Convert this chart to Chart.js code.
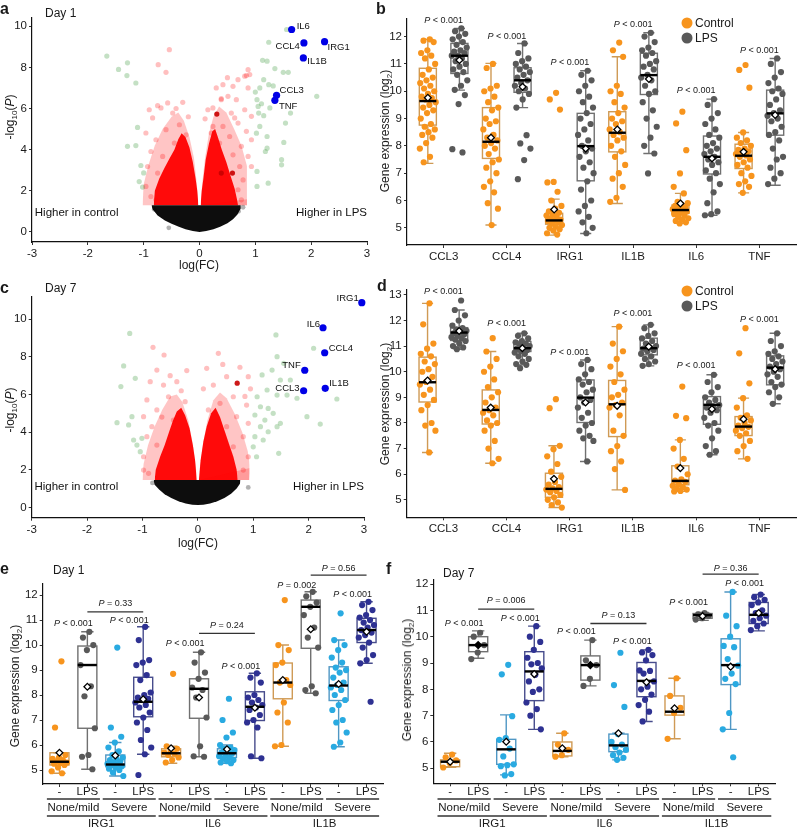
<!DOCTYPE html>
<html lang="en">
<head>
<meta charset="UTF-8">
<title>LPS response</title>
<script src="https://cdn.jsdelivr.net/npm/chart.js"></script>
<style>
  body { margin: 0; background: #fff; }
  #page { position: relative; width: 800px; height: 827px; overflow: hidden; font-family: 'Liberation Sans', Arial, sans-serif; color: #1a1a1a; }
  canvas { position: absolute; }
  .t { position: absolute; line-height: 1; white-space: nowrap; }
  .big { font-weight: bold; font-size: 16px; }
  .day { font-size: 12px; }
  .yt { font-size: 12px; transform: translate(-50%, -50%) rotate(-90deg); }
  .xt { font-size: 12px; transform: translate(-50%, -50%); }
  .lg { font-size: 12px; transform: translateY(-50%); }
  .dot { position: absolute; width: 11px; height: 11px; border-radius: 50%; transform: translate(-50%, -50%); }
  sub { font-size: 8px; vertical-align: -3px; line-height: 0; }
</style>
</head>
<body>
<div id="page">
  <canvas id="cA"></canvas>
  <canvas id="cB"></canvas>
  <canvas id="cC"></canvas>
  <canvas id="cD"></canvas>
  <canvas id="cE"></canvas>
  <canvas id="cF"></canvas>

  <div class="t big" style="left:0;top:1px">a</div>
  <div class="t day" style="left:45px;top:7px">Day 1</div>
  <div class="t big" style="left:376px;top:1px">b</div>
  <div class="t big" style="left:0;top:280px">c</div>
  <div class="t day" style="left:45px;top:282px">Day 7</div>
  <div class="t big" style="left:377px;top:278px">d</div>
  <div class="t big" style="left:0;top:561px">e</div>
  <div class="t day" style="left:53px;top:564px">Day 1</div>
  <div class="t big" style="left:386px;top:561px">f</div>
  <div class="t day" style="left:443px;top:567px">Day 7</div>

  <div class="t yt" style="left:10px;top:117px">-log<sub>10</sub>(<i>P</i>)</div>
  <div class="t yt" style="left:10px;top:410px">-log<sub>10</sub>(<i>P</i>)</div>
  <div class="t xt" style="left:199px;top:265px">log(FC)</div>
  <div class="t xt" style="left:198px;top:543px">log(FC)</div>
  <div class="t yt" style="left:385px;top:131px">Gene expression (log<sub>2</sub>)</div>
  <div class="t yt" style="left:385px;top:404px">Gene expression (log<sub>2</sub>)</div>
  <div class="t yt" style="left:15px;top:686px">Gene expression (log<sub>2</sub>)</div>
  <div class="t yt" style="left:407px;top:680px">Gene expression (log<sub>2</sub>)</div>

  <div class="dot" style="left:687px;top:23px;background:#f7941d"></div>
  <div class="t lg" style="left:695px;top:23px">Control</div>
  <div class="dot" style="left:687px;top:38px;background:#595959"></div>
  <div class="t lg" style="left:695px;top:38px">LPS</div>
  <div class="dot" style="left:687px;top:291px;background:#f7941d"></div>
  <div class="t lg" style="left:695px;top:291px">Control</div>
  <div class="dot" style="left:687px;top:306px;background:#595959"></div>
  <div class="t lg" style="left:695px;top:306px">LPS</div>
</div>

<script>
// ---------- volcano, day 1 ----------
const aBlack = [[-0.86,1.3],[-0.84,1.1],[-0.75,0.8],[-0.62,0.55],[-0.5,0.4],[-0.37,0.25],[-0.25,0.13],[-0.12,0.04],[0,0],[0.12,0.04],[0.25,0.13],[0.37,0.25],[0.5,0.42],[0.6,0.62],[0.68,0.85],[0.73,1.1],[0.74,1.3]];
const aRedL = [[-0.82,1.3],[-0.8,2.0],[-0.72,2.6],[-0.63,3.1],[-0.53,3.6],[-0.45,4.0],[-0.38,4.5],[-0.32,4.8],[-0.25,4.6],[-0.18,4.1],[-0.12,3.4],[-0.07,2.6],[-0.04,2.0],[-0.02,1.3]];
const aRedR = [[0.02,1.3],[0.04,2.0],[0.07,2.6],[0.11,3.5],[0.17,4.3],[0.23,4.9],[0.28,5.0],[0.33,4.6],[0.4,4.0],[0.48,3.4],[0.56,2.7],[0.63,2.1],[0.67,1.6],[0.69,1.3]];
const aHaloL = [[-1.02,1.3],[-1.0,2.3],[-0.92,3.2],[-0.8,4.2],[-0.66,5.0],[-0.5,5.6],[-0.38,5.8],[-0.28,5.4],[-0.18,4.6],[-0.1,3.6],[-0.05,2.4],[-0.02,1.3]];
const aHaloR = [[0.02,1.3],[0.05,2.4],[0.1,3.6],[0.17,4.8],[0.25,5.6],[0.35,6.1],[0.48,5.8],[0.62,5.0],[0.75,4.2],[0.85,3.2],[0.9,2.3],[0.88,1.6],[0.85,1.3]];
const aPink = [[-0.54,8.86],[-0.74,8.13],[-0.6,7.76],[-0.75,6.14],[-0.57,6.27],[-0.69,6.03],[-0.9,5.94],[-0.48,5.78],[-0.84,5.54],[-0.36,5.21],[-0.6,4.97],[-0.96,4.81],[-0.24,4.72],[-0.78,4.48],[-0.45,4.32],[-0.87,3.91],[-0.66,3.67],[-0.93,3.18],[-0.75,2.86],[-0.96,2.21],[-0.87,1.72],[-0.78,1.56],[-0.3,6.3],[-0.2,5.6],[-0.42,6.0],
  [0.87,7.89],[0.9,7.65],[0.81,7.57],[0.42,7.16],[0.69,7.4],[0.87,7.0],[0.51,6.59],[0.66,6.43],[0.39,6.43],[0.24,6.03],[0.81,5.94],[0.57,5.78],[0.93,5.62],[0.69,5.29],[0.42,5.13],[0.84,4.89],[0.21,4.81],[0.54,4.64],[0.93,4.48],[0.75,4.16],[0.36,4.32],[0.6,3.75],[0.87,3.67],[0.93,3.18],[0.72,3.18],[0.78,2.53],[0.69,2.05],[0.75,1.56],[0.39,6.48],[0.63,5.54],[0.84,7.6],[0.6,7.08],[0.15,5.94],[0.24,5.13],[0.1,5.5],[0.3,7.0],[0.5,7.5]];
const aGreen = [[-1.66,8.55],[-1.29,8.22],[-1.45,7.9],[-1.3,7.6],[-1.14,7.24],[-1.11,5.08],[-1.14,4.2],[-1.29,4.16],[-1.05,3.23],[-1.0,2.87],[-1.08,2.45],[-1.02,2.18],
  [1.24,9.22],[1.21,8.3],[1.13,8.34],[1.35,7.94],[1.5,7.76],[1.59,7.76],[1.15,7.4],[1.24,7.16],[1.32,7.1],[1.08,7.0],[1.03,6.43],[1.11,6.23],[1.26,6.03],[1.06,5.78],[1.15,5.65],[2.1,6.59],[1.63,5.78],[1.54,5.29],[1.08,5.13],[1.21,4.64],[1.02,4.8],[1.51,4.35],[1.18,3.91],[1.21,4.07],[1.47,3.51],[1.47,3.26],[1.03,2.94],[1.23,2.37],[1.03,2.21],[1.56,9.84],[1.0,6.8],[1.05,6.1]];
const aDark = [[0.39,2.86],[0.59,2.86],[0.31,5.73]];
const aGrey = [[-0.81,1.1],[-0.55,0.2],[0.7,1.0],[0.78,1.2]];
const aGenes = ['IL6', 'CCL4', 'IRG1', 'IL1B', 'CCL3', 'TNF'];
const aGeneX = [1.65, 1.87, 2.24, 1.86, 1.38, 1.35];
const aGeneY = [9.84, 9.19, 9.25, 8.46, 6.64, 6.4];

// ---------- volcano, day 7 ----------
const cBlack = [[-0.8,1.45],[-0.78,1.2],[-0.7,0.95],[-0.6,0.7],[-0.48,0.5],[-0.35,0.33],[-0.22,0.2],[-0.1,0.14],[0,0.12],[0.1,0.14],[0.22,0.2],[0.35,0.33],[0.48,0.5],[0.6,0.72],[0.7,1.0],[0.76,1.25],[0.77,1.45]];
const cRedL = [[-0.78,1.45],[-0.76,2.0],[-0.68,2.7],[-0.6,3.3],[-0.52,4.0],[-0.45,4.6],[-0.38,5.1],[-0.3,5.3],[-0.23,4.9],[-0.15,4.2],[-0.09,3.3],[-0.05,2.5],[-0.02,1.45]];
const cRedR = [[0.02,1.45],[0.05,2.5],[0.1,3.5],[0.16,4.3],[0.24,5.0],[0.32,5.3],[0.4,4.8],[0.48,4.1],[0.56,3.4],[0.64,2.7],[0.7,2.0],[0.72,1.45]];
const cHaloL = [[-1.0,1.45],[-0.98,2.3],[-0.9,3.3],[-0.78,4.3],[-0.64,5.2],[-0.5,5.9],[-0.38,6.0],[-0.28,5.6],[-0.17,4.6],[-0.08,3.2],[-0.03,2.0],[-0.02,1.45]];
const cHaloR = [[0.02,1.45],[0.04,2.2],[0.09,3.3],[0.17,4.6],[0.28,5.7],[0.4,6.1],[0.52,5.8],[0.66,5.0],[0.8,4.0],[0.9,3.0],[0.95,2.1],[0.93,1.45]];
const cPink = [[-0.81,8.51],[-0.61,8.1],[0.37,8.19],[0.76,7.45],[-0.74,7.3],[-0.2,7.27],[-0.86,6.68],[-0.38,6.68],[-0.62,6.5],[-0.53,5.88],[-0.92,5.71],[-0.23,5.62],[-0.74,5.18],[-0.98,4.82],[-0.44,4.64],[-0.83,4.29],[-0.92,3.76],[-0.74,3.31],[-0.98,2.69],[-0.98,1.98],[-0.89,1.81],
  [0.16,7.39],[0.52,6.95],[0.28,6.5],[0.91,6.95],[0.64,5.88],[0.4,5.53],[0.88,5.44],[0.19,5.18],[0.7,4.82],[0.91,4.47],[0.52,4.29],[0.82,3.76],[0.64,3.22],[0.91,2.69],[0.82,1.98],[-0.5,7.0],[-0.3,6.2],[0.1,6.3],[0.45,7.6],[0.95,6.3],[0.85,5.9],[-0.65,4.8]];
const cGreen = [[-1.23,9.25],[-1.34,7.52],[-1.13,6.86],[-1.39,6.42],[-1.46,4.5],[-1.19,4.82],[-1.16,3.58],[-1.1,3.31],[-1.01,3.67],[-1.04,2.96],[-1.25,4.38],
  [1.41,9.17],[2.09,8.46],[1.43,8.01],[1.55,7.66],[1.34,7.3],[1.16,7.04],[1.49,6.77],[1.67,6.77],[1.25,6.24],[1.43,5.97],[1.61,5.97],[1.79,5.8],[2.51,5.76],[1.07,5.88],[1.13,5.35],[1.27,5.26],[1.03,4.91],[1.21,4.64],[1.36,5.0],[1.49,4.47],[1.13,4.29],[1.27,4.02],[1.97,4.82],[2.21,4.43],[1.03,3.76],[1.18,3.58],[1.43,4.29],[1.0,3.22],[1.46,2.87],[1.06,2.69]];
const cDark = [[0.71,6.6]];
const cGrey = [[0.91,1.06],[-0.82,1.3]];
const cGenes = ['IRG1', 'IL6', 'CCL4', 'TNF', 'CCL3', 'IL1B'];
const cGeneX = [2.96, 2.26, 2.29, 1.93, 1.91, 2.30];
const cGeneY = [10.88, 9.55, 8.22, 7.29, 6.2, 6.33];

// ---------- box plots b / d ----------
const genesBD = ['CCL3', 'CCL4', 'IRG1', 'IL1B', 'IL6', 'TNF'];
// per gene: [lower whisker, Q1, median, Q3, upper whisker, mean]
const boxB_ctrl = [[7.36,8.76,9.64,10.84,11.9,9.76],[5.1,7.54,8.15,9.4,11.02,8.3],[4.73,5.13,5.27,5.53,6.05,5.67],[5.89,7.78,8.48,9.25,11.26,8.6],[5.16,5.53,5.65,5.83,6.26,5.89],[6.28,7.17,7.64,8.06,8.49,7.78]];
const boxB_lps = [[10.04,10.65,11.3,11.75,12.3,11.14],[9.4,9.96,10.4,10.86,11.75,10.16],[4.79,6.72,7.99,9.19,10.75,7.9],[7.72,9.88,10.59,11.39,12.14,10.45],[5.46,6.97,7.6,8.36,9.71,7.54],[6.56,8.39,9.19,10.04,11.2,9.13]];
const ptsB_ctrl = [
  [11.9,11.85,11.8,11.5,11.4,11.3,11.2,11.0,10.8,10.6,10.5,10.4,10.3,10.2,10.1,10.0,9.9,9.8,9.75,9.7,9.6,9.5,9.4,9.3,9.2,9.0,8.8,8.7,8.6,8.5,8.4,8.3,8.1,7.9,7.6,7.4],
  [11.0,10.85,10.2,10.1,10.0,9.8,9.6,9.4,9.3,9.0,8.9,8.8,8.6,8.4,8.3,8.2,8.1,8.0,7.9,7.7,7.5,7.4,7.2,7.0,6.7,6.5,6.3,5.9,5.7,5.1],
  [9.94,9.7,9.33,6.68,6.66,6.32,6.0,5.8,5.7,5.6,5.55,5.5,5.45,5.4,5.35,5.3,5.28,5.25,5.2,5.15,5.1,5.05,5.0,4.95,4.9,4.8,4.75],
  [11.78,11.5,11.26,10.2,10.0,9.9,9.6,9.4,9.2,9.0,8.9,8.8,8.6,8.5,8.4,8.3,8.2,8.0,7.8,7.6,7.3,7.0,6.8,6.5,6.1,5.95],
  [9.25,8.82,7.84,6.99,6.5,6.26,5.95,5.9,5.85,5.8,5.75,5.7,5.68,5.65,5.62,5.6,5.55,5.5,5.45,5.4,5.35,5.3,5.25,5.2,5.16],
  [10.96,10.78,10.13,8.49,8.3,8.2,8.1,8.0,7.9,7.85,7.8,7.75,7.7,7.65,7.6,7.5,7.4,7.3,7.2,7.0,6.9,6.7,6.6,6.5,6.28]];
const ptsB_lps = [
  [12.3,12.2,12.1,12.0,11.9,11.8,11.7,11.6,11.5,11.45,11.4,11.3,11.3,11.2,11.1,11.0,10.9,10.8,10.7,10.6,10.4,10.2,10.05,9.86,9.53,7.88,7.76],
  [11.75,11.4,11.2,11.1,11.0,10.9,10.8,10.7,10.6,10.5,10.4,10.3,10.2,10.1,10.0,9.9,9.7,9.4,8.39,8.09,7.9,7.48,6.78],
  [10.75,10.6,10.4,10.2,10.0,9.8,9.6,9.4,9.2,9.0,8.8,8.6,8.4,8.2,8.0,7.9,7.8,7.6,7.4,7.2,7.0,6.7,6.4,6.0,5.8,5.6,5.4,5.2,5.0,4.8],
  [12.14,12.0,11.8,11.6,11.5,11.4,11.3,11.1,11.0,10.9,10.8,10.6,10.5,10.4,10.2,10.0,9.9,9.6,9.3,9.0,8.7,8.3,8.0,7.72,6.99],
  [9.71,9.5,9.2,9.0,8.8,8.6,8.4,8.3,8.1,8.0,7.9,7.8,7.7,7.6,7.5,7.4,7.3,7.1,7.0,6.8,6.6,6.3,5.9,5.6,5.5,5.46],
  [11.2,11.0,10.7,10.5,10.3,10.1,10.0,9.9,9.7,9.5,9.3,9.2,9.1,9.0,8.9,8.7,8.5,8.4,8.2,7.9,7.6,7.5,7.2,7.0,6.8,6.6]];
const pB_y = [12.58, 12.0, 11.06, 12.46, 10.04, 11.5];

const boxD_ctrl = [[6.85,8.82,9.59,10.57,12.67,9.66],[6.43,7.96,8.51,9.29,10.79,8.6],[4.7,5.1,5.43,6.04,7.11,5.82],[5.39,7.47,8.73,9.66,11.76,8.67],[5.33,5.59,5.74,6.33,7.34,6.24],[6.6,7.51,7.86,8.25,8.97,8.15]];
const boxD_lps = [[10.88,11.22,11.53,11.72,12.41,11.59],[10.27,10.79,10.92,11.18,11.5,10.92],[6.5,8.02,8.99,9.68,10.46,8.8],[10.23,10.66,10.92,11.31,11.83,10.98],[6.76,7.95,8.71,9.03,9.88,8.54],[8.75,9.49,10.16,10.62,11.5,10.1]];
const ptsD_ctrl = [
  [12.67,11.85,11.1,10.9,10.7,10.6,10.4,10.3,10.1,10.0,9.8,9.6,9.5,9.3,9.1,8.9,8.7,8.5,8.0,7.9,7.7,6.85],
  [11.31,10.79,10.5,10.2,10.0,9.7,9.4,9.2,9.0,8.8,8.6,8.5,8.4,8.3,8.1,8.0,7.9,7.7,7.3,7.0,6.6,6.43],
  [8.93,8.58,7.11,6.98,6.7,6.4,6.1,5.9,5.7,5.6,5.5,5.45,5.4,5.35,5.3,5.2,5.1,5.0,4.9,4.8,4.7],
  [11.76,11.1,10.8,10.5,10.2,9.9,9.6,9.3,9.1,9.0,8.8,8.7,8.6,8.3,7.7,7.5,7.1,6.9,6.5,6.2,5.39],
  [9.42,8.28,8.19,7.34,7.0,6.6,6.3,6.0,5.8,5.75,5.7,5.6,5.55,5.5,5.45,5.4,5.35,5.33],
  [11.7,10.72,9.55,8.97,8.6,8.3,8.2,8.1,8.0,7.9,7.85,7.8,7.7,7.6,7.5,7.3,7.1,6.9,6.6]];
const ptsD_lps = [
  [12.78,12.41,12.2,12.0,11.8,11.7,11.65,11.6,11.55,11.5,11.45,11.4,11.35,11.3,11.25,11.2,11.1,11.0,10.95,10.88],
  [11.5,11.4,11.3,11.2,11.15,11.1,11.05,11.0,10.95,10.9,10.85,10.8,10.75,10.7,10.6,10.5,10.4,10.3,10.27,10.14],
  [10.46,10.3,10.1,9.9,9.7,9.6,9.5,9.3,9.2,9.0,8.9,8.8,8.6,8.4,8.2,8.0,7.9,7.7,7.5,7.4,7.3,6.5],
  [11.83,11.7,11.5,11.4,11.3,11.2,11.1,11.0,10.95,10.9,10.85,10.8,10.7,10.6,10.5,10.4,10.3,10.23],
  [9.88,9.6,9.4,9.2,9.0,8.9,8.8,8.7,8.65,8.6,8.5,8.4,8.2,8.0,7.9,7.7,7.4,7.1,6.9,6.76],
  [11.5,11.2,11.0,10.8,10.7,10.6,10.5,10.4,10.3,10.2,10.1,10.0,9.9,9.8,9.6,9.5,9.4,9.2,9.0,8.75]];
const pD_y = [13.13, 11.89, 10.75, 12.28, 10.23, 12.02];

// ---------- box plots e / f (severity groups) ----------
const genesEF = ['IRG1', 'IL6', 'IL1B'];
const conds = ['-', 'LPS'];
const severity = ['None/mild', 'Severe'];
const boxE = [[4.87,5.2,5.33,5.69,5.69,5.69],[5.03,6.67,9.2,9.96,10.53,8.33],[4.76,5.13,5.22,5.6,6.1,5.58],[5.63,7.13,7.73,8.71,10.73,7.83],
  [5.27,5.53,5.67,5.85,5.95,5.87],[5.53,7.07,8.25,8.65,9.71,7.9],[5.27,5.5,5.67,5.85,6.0,5.83],[5.47,6.98,7.53,8.13,8.87,7.49],
  [5.95,7.85,8.5,9.28,10.0,8.6],[8.07,9.87,11.53,11.8,12.13,10.63],[5.93,7.78,8.38,9.13,10.2,8.44],[9.27,10.1,10.6,11.07,11.73,10.53]];
const ptsE = [
  [9.35,6.7,5.6,5.5,5.45,5.4,5.35,5.3,5.28,5.25,5.2,5.1,4.95,4.87],
  [10.53,10.3,10.0,9.8,9.2,8.35,7.95,6.67,5.6,5.53,5.03],
  [9.9,6.7,6.33,6.1,5.9,5.75,5.6,5.5,5.45,5.4,5.35,5.3,5.25,5.22,5.2,5.15,5.1,5.05,5.0,4.9,4.76],
  [10.73,10.2,9.4,9.3,9.2,8.8,8.6,8.1,8.0,7.9,7.85,7.8,7.7,7.6,7.5,7.3,7.1,6.9,6.6,6.2,5.9,5.63,4.8],
  [8.85,5.95,5.85,5.75,5.7,5.65,5.6,5.5,5.4,5.3],
  [9.71,9.3,8.9,8.65,8.3,8.2,7.9,7.1,5.95,5.55,5.53],
  [7.85,7.0,6.5,6.3,6.0,5.9,5.85,5.8,5.75,5.7,5.65,5.6,5.55,5.5,5.45,5.4,5.35,5.3,5.27],
  [8.87,8.7,8.5,8.0,7.9,7.8,7.7,7.6,7.5,7.4,7.2,7.0,6.9,6.7,5.55,5.47],
  [11.8,10.0,9.8,9.3,9.2,8.6,8.5,8.4,7.7,7.3,6.9,6.0,5.95],
  [12.13,11.95,11.7,11.53,11.2,10.7,10.3,9.9,8.35,8.2,8.07],
  [11.27,10.2,10.0,9.8,9.5,9.3,9.1,9.0,8.9,8.7,8.5,8.4,8.3,8.2,8.0,7.8,7.6,7.4,7.0,6.9,6.5,6.1,5.93],
  [11.73,11.6,11.4,11.2,11.1,11.0,10.9,10.8,10.7,10.6,10.5,10.4,10.3,10.1,9.9,9.6,9.4,9.27,7.73]];
const pE_x = [1.5, 3.5, 5.5, 7.5, 9.5, 11.5];
const pE_y = [10.87, 11.0, 10.07, 9.13, 12.4, 12.03];
const pE_txt = ['< 0.001', '< 0.001', '< 0.001', '< 0.001', '= 0.002', '< 0.001'];
const brE_from = [2, 6, 10], brE_to = [4, 8, 12];
const brE_y = [11.33, 10.47, 12.8], brE_txtY = [11.67, 10.77, 13.07];
const brE_txt = ['= 0.33', '= 0.24', '= 0.56'];

const boxF = [[5.04,5.06,5.25,5.32,5.57,5.25],[9.18,9.43,9.68,10.0,10.22,9.68],[4.75,5.15,5.72,6.1,7.03,6.01],[6.48,7.57,8.68,9.43,10.4,8.58],
  [5.44,5.47,5.66,6.0,6.33,5.76],[8.13,8.35,8.92,9.27,9.87,8.92],[5.32,5.63,5.87,6.3,6.33,6.33],[6.78,7.72,8.32,9.02,9.5,8.27],
  [6.12,7.02,7.15,7.75,8.42,7.28],[10.62,10.7,10.82,10.88,10.92,10.78],[6.48,8.18,8.92,9.92,11.7,8.86],[10.22,10.5,10.83,11.3,11.6,10.9]];
const ptsF = [
  [5.52,5.42,5.3,5.2,5.03],
  [10.15,10.0,9.68,9.4,9.15],
  [8.93,8.57,6.98,6.15,6.08,5.75,5.45,5.15,5.12,5.08,4.78,4.73],
  [10.4,10.0,9.8,9.5,9.2,9.0,8.95,8.8,8.55,8.3,8.0,7.9,7.5,7.25,7.0,6.48],
  [6.33,5.9,5.7,5.5,5.44],
  [9.87,9.1,8.92,8.4,8.13],
  [9.39,8.16,7.33,6.3,6.0,5.9,5.8,5.7,5.6,5.5,5.4,5.32],
  [9.5,9.4,9.3,9.1,8.72,8.7,8.6,8.3,8.1,8.0,7.8,7.6,7.4,7.15,6.78],
  [8.42,7.75,7.3,7.1,6.12],
  [10.9,10.85,10.8,10.7,10.65],
  [11.7,10.8,10.4,10.0,9.65,9.6,9.15,8.9,8.6,8.4,8.2,7.1,6.48,5.42],
  [11.6,11.5,11.4,11.3,11.2,11.0,10.9,10.8,10.7,10.6,10.5,10.4,10.25]];
const pF_x = [1.5, 3.5, 5.5, 7.5, 9.5, 11.5];
const pF_y = [10.5, 10.7, 10.19, 9.81, 11.3, 12.03];
const pF_txt = ['< 0.001', '< 0.001', '< 0.001', '< 0.001', '< 0.001', '< 0.001'];
const brF_from = [2, 6, 10], brF_to = [4, 8, 12];
const brF_y = [11.05, 10.5, 12.38], brF_txtY = [11.37, 10.8, 12.6];
const brF_txt = ['= 0.006', '= 0.13', '= 0.36'];

// ---------- styling ----------
const FONT = "'Liberation Sans', Arial, sans-serif";
Chart.defaults.font.family = FONT;
Chart.defaults.color = '#1a1a1a';

const ORANGE = ['#f7941d', '#cf9a55'];
const GRAY = ['#595959', '#707070'];
const LBLUE = ['#29aae1', '#4f97c4'];
const NAVY = ['#2e3192', '#474c8c'];

const jit = j => ((((j + 1) * 0.6180339887) % 1) * 2 - 1);
const xy = arr => arr.map(p => ({ x: p[0], y: p[1] }));

function place(id, cv) {
  const el = document.getElementById(id);
  el.style.left = cv[0] + 'px';
  el.style.top = cv[1] + 'px';
  el.width = cv[2];
  el.height = cv[3];
  return el;
}

function axis(min, max, ticks, cb) {
  return {
    type: 'linear', min: min, max: max,
    grid: { drawOnChartArea: false, drawTicks: true, tickLength: 3, color: '#333', lineWidth: 1 },
    border: { display: true, color: '#111', width: 1.2 },
    ticks: { font: { size: 11.5 }, color: '#1a1a1a', padding: 2, autoSkip: false, maxRotation: 0, callback: cb || (v => String(v)) },
    afterBuildTicks: s => { s.ticks = ticks.map(v => ({ value: v })); }
  };
}

function options(cv, area, xs, ys) {
  const YW = 20, XH = 18;
  xs.afterFit = s => { s.height = XH; };
  ys.afterFit = s => { s.width = YW; };
  return {
    responsive: false, animation: false, events: [],
    layout: { padding: { left: area[0] - cv[0] - YW, top: area[1] - cv[1], right: cv[0] + cv[2] - area[2], bottom: cv[1] + cv[3] - area[3] - XH } },
    plugins: { legend: { display: false }, tooltip: { enabled: false } },
    scales: { x: xs, y: ys }
  };
}

function drawP(ctx, rest, x, y, size) {
  const it = 'italic ' + size + 'px ' + FONT, rg = size + 'px ' + FONT;
  ctx.font = it; const w1 = ctx.measureText('P').width;
  ctx.font = rg; const w2 = ctx.measureText(' ' + rest).width;
  const sx = x - (w1 + w2) / 2;
  ctx.textAlign = 'left'; ctx.textBaseline = 'middle'; ctx.fillStyle = '#1a1a1a';
  ctx.font = it; ctx.fillText('P', sx, y);
  ctx.font = rg; ctx.fillText(' ' + rest, sx + w1, y);
}

// ---------- volcano ----------
function volcano(id, cv, area, v) {
  const el = place(id, cv);
  const fillTo = (pts, col, base) => ({ data: xy(pts), showLine: true, borderWidth: 0, pointRadius: 0, backgroundColor: col, fill: { value: base } });
  const dots = (pts, col, r) => ({ data: xy(pts), pointRadius: r, backgroundColor: col, borderWidth: 0, clip: false });
  const geneDots = v.gx.map((x, i) => [x, v.gy[i]]);
  const datasets = [
    dots(geneDots, '#0000e6', 3.6),
    dots(v.dark, 'rgba(200,0,0,0.9)', 2.6),
    dots(v.green, 'rgba(70,160,70,0.32)', 2.6),
    dots(v.pink, 'rgba(255,0,0,0.25)', 2.6),
    dots(v.grey, 'rgba(0,0,0,0.3)', 2.4),
    fillTo(v.black, 'rgba(0,0,0,0.95)', v.base),
    fillTo(v.redL, 'rgba(255,0,0,0.95)', v.base),
    fillTo(v.redR, 'rgba(255,0,0,0.95)', v.base),
    fillTo(v.haloL, 'rgba(255,40,40,0.27)', v.base),
    fillTo(v.haloR, 'rgba(255,40,40,0.27)', v.base)
  ];
  const labels = {
    id: 'vlabels',
    afterDatasetsDraw(chart) {
      const { ctx, scales: { x, y } } = chart;
      ctx.save();
      ctx.fillStyle = '#111';
      ctx.textBaseline = 'middle';
      ctx.font = '9.5px ' + FONT;
      v.genes.forEach((g, i) => {
        const p = v.place[i];
        ctx.textAlign = p[2];
        ctx.fillText(g, x.getPixelForValue(v.gx[i]) + p[0], y.getPixelForValue(v.gy[i]) + p[1]);
      });
      ctx.font = '11.5px ' + FONT;
      ctx.textAlign = 'left';
      ctx.fillText('Higher in control', x.getPixelForValue(-2.95), y.getPixelForValue(v.noteY));
      ctx.textAlign = 'right';
      ctx.fillText('Higher in LPS', x.getPixelForValue(3), y.getPixelForValue(v.noteY));
      ctx.restore();
    }
  };
  const xs = axis(-3, 3, [-3, -2, -1, 0, 1, 2, 3]);
  const ys = axis(v.ymin, v.ymax, [0, 2, 4, 6, 8, 10]);
  new Chart(el, { type: 'scatter', data: { datasets }, options: options(cv, area, xs, ys), plugins: [labels] });
}

volcano('cA', [0, 0, 380, 280], [32, 18, 367, 242], {
  black: aBlack, redL: aRedL, redR: aRedR, haloL: aHaloL, haloR: aHaloR, pink: aPink, green: aGreen, dark: aDark, grey: aGrey,
  genes: aGenes, gx: aGeneX, gy: aGeneY, base: 1.3, ymin: -0.49, ymax: 10.4, noteY: 0.91,
  place: [[5, -3, 'left'], [-4, 3.5, 'right'], [3, 6, 'left'], [4, 3, 'left'], [3, -5, 'left'], [4, 6.5, 'left']]
});
volcano('cC', [0, 280, 380, 280], [31.7, 296.7, 364, 517.7], {
  black: cBlack, redL: cRedL, redR: cRedR, haloL: cHaloL, haloR: cHaloR, pink: cPink, green: cGreen, dark: cDark, grey: cGrey,
  genes: cGenes, gx: cGeneX, gy: cGeneY, base: 1.45, ymin: -0.55, ymax: 11.2, noteY: 1.1,
  place: [[-3, -4, 'right'], [-3, -3.5, 'right'], [4, -4.5, 'left'], [-4, -5, 'right'], [-4, -2.5, 'right'], [4, -5, 'left']]
});

// ---------- box plots ----------
function boxChart(id, cv, area, sp) {
  const el = place(id, cv);
  const datasets = sp.pts.map((vals, i) => ({
    data: vals.map((v, j) => ({ x: sp.pos[i] + jit(j) * sp.jw, y: v })),
    backgroundColor: sp.col[i][0], pointRadius: 3.1, borderWidth: 0, clip: false
  }));
  const boxes = {
    id: 'boxes',
    beforeDatasetsDraw(chart) {
      const { ctx, scales: { x, y } } = chart;
      ctx.save();
      sp.box.forEach((b, i) => {
        const cx = x.getPixelForValue(sp.pos[i]);
        const hw = x.getPixelForValue(sp.pos[i] + sp.bw / 2) - cx;
        const cw = hw * 0.65;
        const [lo, q1, , q3, hi] = b.map(v => y.getPixelForValue(v));
        ctx.strokeStyle = sp.col[i][1];
        ctx.lineWidth = 1.4;
        ctx.fillStyle = '#fff';
        ctx.fillRect(cx - hw, q3, 2 * hw, q1 - q3);
        ctx.strokeRect(cx - hw, q3, 2 * hw, q1 - q3);
        ctx.beginPath();
        ctx.moveTo(cx, q3); ctx.lineTo(cx, hi);
        ctx.moveTo(cx, q1); ctx.lineTo(cx, lo);
        ctx.moveTo(cx - cw, hi); ctx.lineTo(cx + cw, hi);
        ctx.moveTo(cx - cw, lo); ctx.lineTo(cx + cw, lo);
        ctx.stroke();
      });
      ctx.restore();
    },
    afterDatasetsDraw(chart) {
      const { ctx, scales: { x, y } } = chart;
      ctx.save();
      sp.box.forEach((b, i) => {
        const cx = x.getPixelForValue(sp.pos[i]);
        const hw = x.getPixelForValue(sp.pos[i] + sp.bw / 2) - cx;
        const my = y.getPixelForValue(b[2]);
        ctx.strokeStyle = '#000';
        ctx.lineWidth = 2.4;
        ctx.beginPath(); ctx.moveTo(cx - hw, my); ctx.lineTo(cx + hw, my); ctx.stroke();
        const d = y.getPixelForValue(b[5]), r = 3.4;
        ctx.lineWidth = 1.3;
        ctx.fillStyle = (sp.solidMean && sp.solidMean.includes(i)) ? '#000' : '#fff';
        ctx.beginPath();
        ctx.moveTo(cx, d - r); ctx.lineTo(cx + r, d); ctx.lineTo(cx, d + r); ctx.lineTo(cx - r, d); ctx.closePath();
        ctx.fill(); ctx.stroke();
      });
      sp.pX.forEach((px, i) => drawP(ctx, sp.pTxt[i], x.getPixelForValue(px), y.getPixelForValue(sp.pY[i]), 9));
      (sp.brFrom || []).forEach((f, i) => {
        const by = y.getPixelForValue(sp.brY[i]);
        ctx.strokeStyle = '#333'; ctx.lineWidth = 1.3;
        ctx.beginPath(); ctx.moveTo(x.getPixelForValue(f), by); ctx.lineTo(x.getPixelForValue(sp.brTo[i]), by); ctx.stroke();
        drawP(ctx, sp.brTxt[i], x.getPixelForValue((f + sp.brTo[i]) / 2), y.getPixelForValue(sp.brTxtY[i]), 9);
      });
      if (sp.rows) {
        const R = sp.rows;
        ctx.fillStyle = '#1a1a1a'; ctx.textAlign = 'center'; ctx.textBaseline = 'middle';
        ctx.font = '11.5px ' + FONT;
        ctx.strokeStyle = '#333'; ctx.lineWidth = 1.4;
        for (let k = 0; k < 12; k++) ctx.fillText(conds[k % 2], x.getPixelForValue(k + 1), R[0]);
        for (let k = 0; k < 6; k++) {
          const s = 2 * k + 1;
          ctx.beginPath(); ctx.moveTo(x.getPixelForValue(s - 0.45), R[1]); ctx.lineTo(x.getPixelForValue(s + 1.45), R[1]); ctx.stroke();
          ctx.fillText(severity[k % 2], x.getPixelForValue(s + 0.5), R[2]);
        }
        genesEF.forEach((g, k) => {
          const s = 4 * k + 1;
          ctx.beginPath(); ctx.moveTo(x.getPixelForValue(s - 0.45), R[3]); ctx.lineTo(x.getPixelForValue(s + 3.45), R[3]); ctx.stroke();
          ctx.fillText(g, x.getPixelForValue(s + 1.5), R[4]);
        });
      }
      ctx.restore();
    }
  };
  const xs = axis(sp.xmin, sp.xmax, sp.xticks, sp.xcb);
  if (sp.rows) xs.ticks.display = false;
  const ys = axis(sp.ymin, sp.ymax, sp.yticks);
  new Chart(el, { type: 'scatter', data: { datasets }, options: options(cv, area, xs, ys), plugins: [boxes] });
}

function bdSpec(ctrlBox, lpsBox, ctrlPts, lpsPts, pY, ymin, ymax, yticks) {
  const pos = [], box = [], pts = [], col = [];
  genesBD.forEach((g, i) => {
    pos.push(i + 1 - 0.25, i + 1 + 0.25);
    box.push(ctrlBox[i], lpsBox[i]);
    pts.push(ctrlPts[i], lpsPts[i]);
    col.push(ORANGE, GRAY);
  });
  return {
    pos, box, pts, col, bw: 0.27, jw: 0.13,
    xmin: 0.42, xmax: 6.58, xticks: [1, 2, 3, 4, 5, 6], xcb: v => genesBD[Math.round(v) - 1],
    ymin, ymax, yticks,
    pX: genesBD.map((g, i) => i + 1), pY, pTxt: genesBD.map(() => '< 0.001')
  };
}

boxChart('cB', [380, 0, 420, 280], [407, 18.3, 799.5, 245],
  bdSpec(boxB_ctrl, boxB_lps, ptsB_ctrl, ptsB_lps, pB_y, 4.37, 12.67, [5, 6, 7, 8, 9, 10, 11, 12]));
boxChart('cD', [380, 280, 420, 280], [406.7, 290, 799.5, 517.3],
  bdSpec(boxD_ctrl, boxD_lps, ptsD_ctrl, ptsD_lps, pD_y, 4.32, 13.19, [5, 6, 7, 8, 9, 10, 11, 12, 13]));

function efSpec(box, pts, pX, pY, pTxt, brFrom, brTo, brY, brTxtY, brTxt, ymin, ymax, solidMean) {
  const cyc = [ORANGE, GRAY, LBLUE, NAVY];
  const pos = box.map((b, i) => i + 1);
  return {
    pos, box, pts, col: pos.map((p, i) => cyc[i % 4]), bw: 0.68, jw: 0.3,
    xmin: 0.4, xmax: 12.6, xticks: pos, xcb: () => '',
    ymin, ymax, yticks: [5, 6, 7, 8, 9, 10, 11, 12],
    pX, pY, pTxt, brFrom, brTo, brY, brTxtY, brTxt, solidMean,
    rows: [231.5, 239, 248, 256, 263.5]
  };
}

boxChart('cE', [0, 560, 400, 267], [42.7, 583.3, 383.3, 784],
  efSpec(boxE, ptsE, pE_x, pE_y, pE_txt, brE_from, brE_to, brE_y, brE_txtY, brE_txt, 4.44, 12.47, []));
boxChart('cF', [400, 560, 400, 267], [433.3, 579.3, 775.5, 783.3],
  efSpec(boxF, ptsF, pF_x, pF_y, pF_txt, brF_from, brF_to, brF_y, brF_txtY, brF_txt, 4.43, 12.18, [1, 5]));
</script>
</body>
</html>
